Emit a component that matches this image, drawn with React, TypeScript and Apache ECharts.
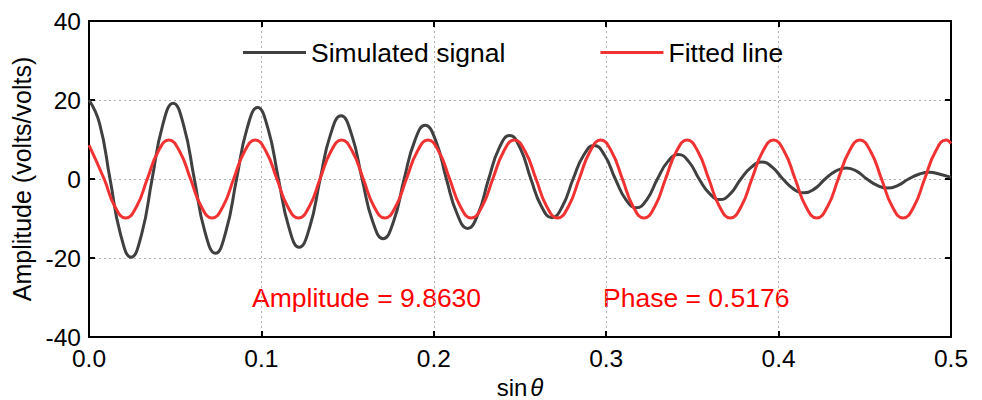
import React, { useEffect, useRef } from "react";
import * as echarts from "echarts";

// Simulated signal (decaying oscillation)
const simX = [
  0, 0.0061, 0.0122, 0.0183, 0.0244, 0.0305, 0.0366, 0.0427, 0.0488, 0.0549, 0.0611, 0.0672,
  0.0733, 0.0794, 0.0856, 0.0917, 0.0978, 0.1038, 0.1099, 0.1159, 0.1219, 0.128, 0.1341, 0.1401,
  0.1462, 0.1523, 0.1584, 0.1645, 0.1706, 0.1767, 0.1828, 0.1889, 0.195, 0.2012, 0.2073, 0.2135,
  0.2196, 0.2257, 0.2318, 0.2379, 0.244, 0.2501, 0.2563, 0.2624, 0.2685, 0.2746, 0.2808, 0.2869,
  0.293, 0.2991, 0.3053, 0.3114, 0.3175, 0.3236, 0.3297, 0.3357, 0.3418, 0.3479, 0.3539, 0.36,
  0.366, 0.3721, 0.3781, 0.3842, 0.3902, 0.3963, 0.4025, 0.4086, 0.4147, 0.4208, 0.427, 0.4331,
  0.4392, 0.4452, 0.4512, 0.4572, 0.4632, 0.4693, 0.4754, 0.4814, 0.4875, 0.4936, 0.5,
];
const simY = [
  20.0, 14.1, 0, -14.0, -19.8, -14.0, 0, 13.6, 19.2, 13.6, 0, -13.3,
  -18.8, -13.3, 0, 12.8, 18.1, 12.8, 0, -12.2, -17.3, -12.2, 0, 11.3,
  16.0, 11.3, 0, -10.7, -15.1, -10.7, 0, 9.6, 13.6, 9.6, 0, -8.8,
  -12.5, -8.8, 0, 7.8, 11.0, 7.8, 0, -6.9, -9.8, -6.9, 0, 6.0,
  8.5, 6.0, 0, -5.2, -7.3, -5.2, 0, 4.4, 6.2, 4.4, 0, -3.7,
  -5.2, -3.7, 0, 3.0, 4.3, 3.0, 0, -2.5, -3.5, -2.5, 0, 2.0,
  2.8, 2.0, 0, -1.6, -2.3, -1.6, 0, 1.2, 1.7, 1.2, 0.4,
];

// Fitted line
const fitX = [
  0, 0.0088, 0.015, 0.0213, 0.0276, 0.0338, 0.0401, 0.0463, 0.0526, 0.0589, 0.0651, 0.0714,
  0.0777, 0.0839, 0.0902, 0.0964, 0.1027, 0.109, 0.1152, 0.1215, 0.1278, 0.134, 0.1403, 0.1465,
  0.1528, 0.1591, 0.1653, 0.1716, 0.1779, 0.1841, 0.1904, 0.1966, 0.2029, 0.2092, 0.2154, 0.2217,
  0.228, 0.2342, 0.2405, 0.2467, 0.253, 0.2593, 0.2655, 0.2718, 0.2781, 0.2843, 0.2906, 0.2968,
  0.3031, 0.3094, 0.3156, 0.3219, 0.3282, 0.3344, 0.3407, 0.3469, 0.3532, 0.3595, 0.3657, 0.372,
  0.3783, 0.3845, 0.3908, 0.397, 0.4033, 0.4096, 0.4158, 0.4221, 0.4284, 0.4346, 0.4409, 0.4471,
  0.4534, 0.4597, 0.4659, 0.4722, 0.4785, 0.4847, 0.491, 0.4972, 0.5,
];
const fitY = [
  8.6, 0, -6.97, -9.86, -6.97, 0, 6.97, 9.86, 6.97, 0, -6.97, -9.86,
  -6.97, 0, 6.97, 9.86, 6.97, 0, -6.97, -9.86, -6.97, 0, 6.97, 9.86,
  6.97, 0, -6.97, -9.86, -6.97, 0, 6.97, 9.86, 6.97, 0, -6.97, -9.86,
  -6.97, 0, 6.97, 9.86, 6.97, 0, -6.97, -9.86, -6.97, 0, 6.97, 9.86,
  6.97, 0, -6.97, -9.86, -6.97, 0, 6.97, 9.86, 6.97, 0, -6.97, -9.86,
  -6.97, 0, 6.97, 9.86, 6.97, 0, -6.97, -9.86, -6.97, 0, 6.97, 9.86,
  6.97, 0, -6.97, -9.86, -6.97, 0, 6.97, 9.86, 9.0,
];

const seriesNames = ["Simulated signal", "Fitted line"];
const annotations = ["Amplitude = 9.8630", "Phase = 0.5176"];

const FONT = "Arial, 'Liberation Sans', sans-serif";

export default function App() {
  const ref = useRef<HTMLDivElement>(null);
  useEffect(() => {
    if (!ref.current) return;
    const chart = echarts.init(ref.current, null, { renderer: "svg" });
    const axisLine = { show: true, onZero: false, lineStyle: { color: "#000", width: 2 } };
    const tick = { show: true, inside: true, length: 6, lineStyle: { color: "#000", width: 2 } };
    chart.setOption({
      animation: false,
      backgroundColor: "#fff",
      textStyle: { fontFamily: FONT },
      grid: { left: 89, right: 31, top: 21, bottom: 63, outerBoundsMode: "none", containLabel: false },
      legend: {
        data: seriesNames,
        left: 243,
        top: 39,
        padding: 0,
        itemGap: 95,
        itemWidth: 63,
        itemHeight: 3,
        icon: "rect",
        textStyle: { fontSize: 26.5, color: "#000", fontFamily: FONT },
      },
      xAxis: [
        {
          type: "value",
          min: 0,
          max: 0.5,
          interval: 0.1,
          position: "bottom",
          axisLine,
          axisTick: tick,
          axisLabel: {
            formatter: (v: number) => v.toFixed(1),
            fontSize: 24.5,
            color: "#000",
            fontFamily: FONT,
            margin: 9,
          },
          splitLine: { show: true, lineStyle: { color: "#b0b0b0", type: [2, 3], width: 1 } },
          name: "{a|sin}{b|θ}",
          nameLocation: "middle",
          nameGap: 33,
          nameTextStyle: {
            lineHeight: 24,
            rich: {
              a: { fontSize: 24, lineHeight: 24, color: "#000", fontFamily: FONT },
              b: { fontSize: 24, lineHeight: 24, color: "#000", fontFamily: FONT, fontStyle: "italic", padding: [0, 0, 0, 3] },
            },
          },
        },
        {
          type: "value",
          min: 0,
          max: 0.5,
          interval: 0.1,
          position: "top",
          axisLine,
          axisTick: tick,
          axisLabel: { show: false },
          splitLine: { show: false },
        },
      ],
      yAxis: [
        {
          type: "value",
          min: -40,
          max: 40,
          interval: 20,
          position: "left",
          axisLine,
          axisTick: tick,
          axisLabel: { fontSize: 24.5, color: "#000", fontFamily: FONT, margin: 8 },
          splitLine: { show: true, lineStyle: { color: "#b0b0b0", type: [2, 3], width: 1 } },
          name: "Amplitude (volts/volts)",
          nameLocation: "middle",
          nameGap: 52,
          nameTextStyle: { fontSize: 25, color: "#000", fontFamily: FONT },
        },
        {
          type: "value",
          min: -40,
          max: 40,
          interval: 20,
          position: "right",
          axisLine,
          axisTick: tick,
          axisLabel: { show: false },
          splitLine: { show: false },
        },
      ],
      series: [
        {
          name: seriesNames[0],
          type: "line",
          data: simX.map((x, i) => [x, simY[i]]),
          smooth: 0.5,
          symbol: "none",
          lineStyle: { color: "#404040", width: 3 },
          itemStyle: { color: "#404040" },
          z: 2,
        },
        {
          name: seriesNames[1],
          type: "line",
          data: fitX.map((x, i) => [x, fitY[i]]),
          smooth: 0.5,
          symbol: "none",
          lineStyle: { color: "#f03232", width: 3 },
          itemStyle: { color: "#f03232" },
          z: 3,
        },
      ],
      graphic: [
        {
          type: "text",
          left: 252,
          top: 284,
          style: { text: annotations[0], fontSize: 26.5, fill: "#ff0000", fontFamily: FONT },
        },
        {
          type: "text",
          left: 603,
          top: 284,
          style: { text: annotations[1], fontSize: 26.5, fill: "#ff0000", fontFamily: FONT },
        },
      ],
    });
    return () => chart.dispose();
  }, []);
  return <div ref={ref} style={{ width: 982, height: 400, position: "fixed", left: 0, top: 0 }} />;
}
